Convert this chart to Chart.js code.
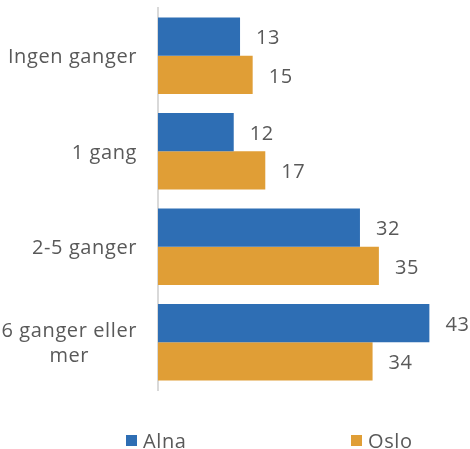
<!DOCTYPE html>
<html>
<head>
<meta charset="utf-8">
<script src="https://cdn.jsdelivr.net/npm/chart.js@4/dist/chart.umd.min.js"></script>
<style>
  html, body { margin: 0; padding: 0; background: #fff; }
  #wrap { width: 470px; height: 449px; position: relative; }
</style>
</head>
<body>
<div id="wrap"><canvas id="chartjs-canvas"></canvas></div>
<script>
// categories and series
const categories = [["Ingen ganger"], ["1 gang"], ["2-5 ganger"], ["6 ganger eller", "mer"]];
const alna = [13, 12, 32, 43];
const oslo = [15, 17, 35, 34];

const FONT = "'Open Sans', 'Noto Sans', sans-serif";
const TEXT = "#595959";

// y labels, value labels and legend are drawn by hand
const labelsPlugin = {
    id: 'labels',
    afterDraw(chart) {
        const ctx = chart.ctx;
        const yScale = chart.scales.y;
        ctx.save();
        ctx.fillStyle = TEXT;
        ctx.font = "20px " + FONT;
        ctx.letterSpacing = '0.6px';
        ctx.textBaseline = 'middle';

        // category labels, lines centred on each other, block right aligned
        categories.forEach((lines, i) => {
            const y = yScale.getPixelForValue(i) + 2;
            const w = Math.max(...lines.map(l => ctx.measureText(l).width));
            const cx = 137 - w / 2;
            const lh = 25;
            const y0 = y - (lines.length - 1) * lh / 2;
            ctx.textAlign = 'center';
            lines.forEach((l, j) => ctx.fillText(l, cx, y0 + j * lh));
        });

        // value labels
        ctx.textAlign = 'left';
        chart.data.datasets.forEach((ds, di) => {
            chart.getDatasetMeta(di).data.forEach((bar, i) => {
                ctx.fillText(ds.data[i], bar.x + 16, bar.y + 2);
            });
        });

        // legend
        const legendX = [126, 351];
        chart.data.datasets.forEach((ds, di) => {
            const x = legendX[di];
            ctx.fillStyle = ds.backgroundColor;
            ctx.fillRect(x, 435, 11, 11);
            ctx.fillStyle = TEXT;
            ctx.fillText(ds.label, x + 17, 442);
        });
        ctx.restore();
    }
};

new Chart(document.getElementById('chartjs-canvas').getContext('2d'), {
    type: 'bar',
    data: {
        labels: categories.map(c => c.join(' ')),
        datasets: [
            { label: 'Alna', data: alna, backgroundColor: '#2E6EB4', categoryPercentage: 0.8, barPercentage: 1.0 },
            { label: 'Oslo', data: oslo, backgroundColor: '#E09E36', categoryPercentage: 0.8, barPercentage: 1.0 }
        ]
    },
    options: {
        indexAxis: 'y',
        responsive: true,
        maintainAspectRatio: false,
        animation: false,
        layout: { padding: { top: 8, bottom: 59, right: 28, left: 0 } },
        plugins: {
            legend: { display: false },
            tooltip: { enabled: false }
        },
        scales: {
            x: {
                display: false,
                min: 0,
                max: 45
            },
            y: {
                afterFit(scale) { scale.width = 158; },
                grid: { display: false, drawTicks: false },
                border: { display: true, color: '#D9D9D9', width: 2 },
                ticks: { display: false }
            }
        }
    },
    plugins: [labelsPlugin]
});
</script>
</body>
</html>
